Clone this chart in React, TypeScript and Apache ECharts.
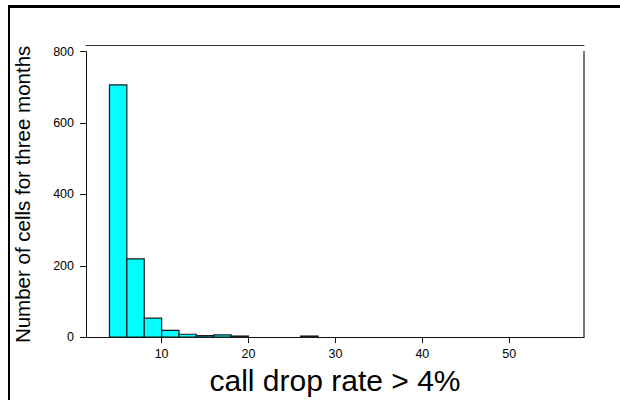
import React, { useEffect, useRef } from "react";
import * as echarts from "echarts";

// Histogram bins (call drop rate %, bin width 2) and counts
const binStarts = [4, 6, 8, 10, 12, 14, 16, 18, 26];
const binEnds = [6, 8, 10, 12, 14, 16, 18, 20, 28];
const counts = [707, 219, 53, 19, 8, 4, 6, 3, 3];

const xTicks = [10, 20, 30, 40, 50];
const yTicks = [0, 200, 400, 600, 800];

const xTitle = "call drop rate > 4%";
const yTitle = "Number of cells for three months";

const FONT = "'Liberation Sans', Arial, sans-serif";

export default function App() {
  const ref = useRef<HTMLDivElement>(null);

  useEffect(() => {
    if (!ref.current) return;
    const chart = echarts.init(ref.current, undefined, { renderer: "svg" });
    const data = binStarts.map((s, i) => [s, binEnds[i], counts[i]]);

    chart.setOption({
      animation: false,
      backgroundColor: "#ffffff",
      textStyle: { fontFamily: FONT },
      grid: { left: 86, right: 36, top: 51.7, bottom: 61.5, containLabel: false },
      xAxis: [
        {
          type: "value",
          min: 1.3,
          max: 58.6,
          position: "bottom",
          axisLine: { show: true, onZero: false, lineStyle: { color: "#111", width: 1 } },
          axisTick: { show: true, customValues: xTicks, length: 6, lineStyle: { color: "#111" } },
          axisLabel: { customValues: xTicks, fontSize: 12.5, color: "#000", margin: 10, fontFamily: FONT },
          splitLine: { show: false },
          name: xTitle,
          nameLocation: "middle",
          nameGap: 22,
          nameTextStyle: { fontSize: 30, color: "#000", fontFamily: FONT },
        },
        {
          type: "value",
          min: 1.3,
          max: 58.6,
          position: "top",
          offset: 6,
          axisLine: { show: true, onZero: false, lineStyle: { color: "#333", width: 1 } },
          axisTick: { show: false },
          axisLabel: { show: false },
          splitLine: { show: false },
        },
      ],
      yAxis: [
        {
          type: "value",
          min: 0,
          max: 800,
          interval: 200,
          axisLine: { show: true, onZero: false, lineStyle: { color: "#111", width: 1 } },
          axisTick: { show: true, customValues: yTicks, length: 6, lineStyle: { color: "#111" } },
          axisLabel: { fontSize: 12.5, color: "#000", margin: 12, fontFamily: FONT },
          splitLine: { show: false },
          name: yTitle,
          nameLocation: "middle",
          nameGap: 53,
          nameRotate: 90,
          nameTextStyle: { fontSize: 20.5, color: "#000", fontFamily: FONT },
        },
        {
          type: "value",
          min: 0,
          max: 800,
          position: "right",
          axisLine: { show: true, onZero: false, lineStyle: { color: "#777", width: 2 } },
          axisTick: { show: false },
          axisLabel: { show: false },
          splitLine: { show: false },
        },
      ],
      graphic: [
        { type: "line", shape: { x1: 8, y1: 6.5, x2: 620, y2: 6.5 }, style: { stroke: "#000", lineWidth: 3 } },
        { type: "line", shape: { x1: 9, y1: 6, x2: 9, y2: 400 }, style: { stroke: "#000", lineWidth: 2 } },
      ],
      series: [
        {
          type: "custom",
          xAxisIndex: 0,
          yAxisIndex: 0,
          data,
          encode: { x: [0, 1], y: 2 },
          renderItem: (params: any, api: any) => {
            const p0 = api.coord([api.value(0), api.value(2)]);
            const p1 = api.coord([api.value(1), 0]);
            return {
              type: "rect",
              shape: { x: p0[0], y: p0[1], width: p1[0] - p0[0], height: p1[1] - p0[1] },
              style: { fill: "#00FFFF", stroke: "#1a1a1a", lineWidth: 1.2 },
            };
          },
        },
      ],
    });

    return () => chart.dispose();
  }, []);

  return (
    <div
      ref={ref}
      style={{ position: "fixed", left: 0, top: 0, width: 620, height: 400, background: "#fff" }}
    />
  );
}
